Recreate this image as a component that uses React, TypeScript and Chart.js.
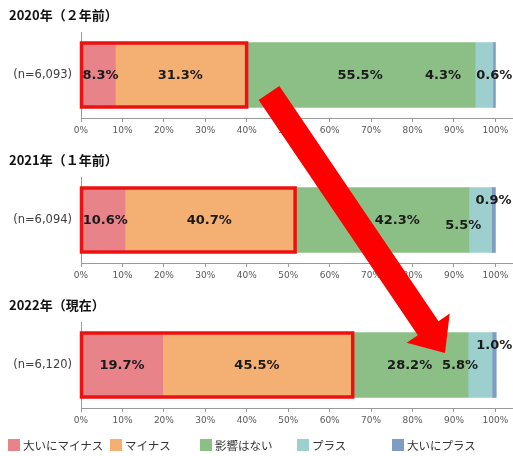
import React, { useEffect, useRef } from "react";
import { Chart, registerables } from "chart.js";

Chart.register(...registerables);

// ---- data ----
const panelTitles = ["2020年（２年前）", "2021年（１年前）", "2022年（現在）"];
const sampleLabels = ["(n=6,093)", "(n=6,094)", "(n=6,120)"];
const seriesNames = ["大いにマイナス", "マイナス", "影響はない", "プラス", "大いにプラス"];
const veryNegative = [8.3, 10.6, 19.7];
const negative = [31.3, 40.7, 45.5];
const noImpact = [55.5, 42.3, 28.2];
const positive = [4.3, 5.5, 5.8];
const veryPositive = [0.6, 0.9, 1.0];
const seriesValues = [veryNegative, negative, noImpact, positive, veryPositive];
const tickLabelSuffix = "%";

// ---- styles ----
const seriesColors = ["#E8838A", "#F4AF72", "#8CBF86", "#9DCFCE", "#7F9CC2"];
const labelOffsets: number[][][] = [
  [[2, 1], [0, 1], [0, 1], [-41, 1], [0, 1]],
  [[2, 1], [0, 1], [16, 1], [-17, 6], [0, -19]],
  [[0, 1], [0, 1], [0, 1], [-20, 1], [0, -19]],
];
const legendLefts = [8, 110, 200, 297, 392];
const PANEL_H = 145;
const W = 513;

function Panel({ index }: { index: number }) {
  const ref = useRef<HTMLCanvasElement | null>(null);
  useEffect(() => {
    if (!ref.current) return;
    const overlayPlugin = {
      id: "overlay",
      afterDatasetsDraw(chart: any) {
        const ctx = chart.ctx;
        ctx.save();
        ctx.font = "bold 13px 'DejaVu Sans'";
        ctx.fillStyle = "#1a1a1a";
        ctx.textAlign = "center";
        ctx.textBaseline = "middle";
        chart.data.datasets.forEach((ds: any, k: number) => {
          const el: any = chart.getDatasetMeta(k).data[0];
          if (!el) return;
          const cx = (el.x + el.base) / 2 + labelOffsets[index][k][0];
          const cy = el.y + labelOffsets[index][k][1];
          ctx.fillText(ds.data[0].toFixed(1) + "%", cx, cy);
        });
        // highlight of the negative share
        const xs = chart.scales.x;
        const el0: any = chart.getDatasetMeta(0).data[0];
        const x0 = xs.getPixelForValue(0);
        const x1 = xs.getPixelForValue(veryNegative[index] + negative[index]);
        const top = el0.y - el0.height / 2;
        const h = el0.height;
        ctx.strokeStyle = "#EE1111";
        ctx.lineWidth = 3.5;
        ctx.strokeRect(x0 + 0.5, top + 0.5, x1 - x0 + 1, h - 1);
        ctx.restore();
      },
    };
    const chart = new Chart(ref.current, {
      type: "bar",
      data: {
        labels: [sampleLabels[index]],
        datasets: seriesNames.map((name, k) => ({
          label: name,
          data: [seriesValues[k][index]],
          backgroundColor: seriesColors[k],
          borderWidth: 0,
          barThickness: 65,
        })),
      },
      options: {
        indexAxis: "y",
        responsive: false,
        animation: false,
        layout: { padding: { left: 9, right: 1, top: 0, bottom: 0 } },
        plugins: {
          legend: { display: false },
          tooltip: { enabled: false },
          title: {
            display: true,
            text: panelTitles[index],
            align: "start",
            color: "#111",
            font: { family: "'Noto Sans CJK JP'", size: 13, weight: "bold" },
            padding: { top: 7, bottom: 9.4 },
          },
        },
        scales: {
          x: {
            stacked: true,
            min: 0,
            max: 104,
            afterFit: (s: any) => {
              s.height = 27;
            },
            ticks: {
              stepSize: 10,
              includeBounds: false,
              autoSkip: false,
              maxRotation: 0,
              padding: 3,
              color: "#595959",
              font: { family: "'DejaVu Sans'", size: 9 },
              callback: (v: any) => v + tickLabelSuffix,
            },
            grid: { display: true, drawOnChartArea: false, drawTicks: true, tickLength: 4, color: "#9a9a9a" },
            border: { display: true, color: "#9a9a9a", width: 1 },
          },
          y: {
            stacked: true,
            afterFit: (s: any) => {
              s.width = 72;
            },
            ticks: { padding: 9, color: "#404040", font: { family: "'DejaVu Sans'", size: 11.5 } },
            grid: { display: true, drawOnChartArea: false, drawTicks: false },
            border: { display: true, color: "#9a9a9a", width: 1 },
          },
        },
      } as any,
      plugins: [overlayPlugin],
    });
    return () => chart.destroy();
  }, [index]);
  return (
    <div style={{ position: "absolute", left: 0, top: index * PANEL_H, width: W, height: PANEL_H }}>
      <canvas ref={ref} width={W} height={PANEL_H} style={{ width: W, height: PANEL_H, display: "block" }} />
    </div>
  );
}

function Arrow() {
  const S = [269, 93];
  const T = [445, 353];
  const dx = T[0] - S[0];
  const dy = T[1] - S[1];
  const len = Math.hypot(dx, dy);
  const u = [dx / len, dy / len];
  const n = [-u[1], u[0]];
  const hw = 12.5;
  const hh = 26;
  const hl = 30;
  const B = [T[0] - u[0] * hl, T[1] - u[1] * hl];
  const p = (a: number[], s: number) => `${a[0] + n[0] * s},${a[1] + n[1] * s}`;
  const pts = [p(S, hw), p(B, hw), p(B, hh), `${T[0]},${T[1]}`, p(B, -hh), p(B, -hw), p(S, -hw)].join(" ");
  return (
    <svg width={W} height={456} style={{ position: "absolute", left: 0, top: 0, pointerEvents: "none" }}>
      <polygon points={pts} fill="#FF0000" />
    </svg>
  );
}

function Legend() {
  return (
    <div style={{ position: "absolute", left: 0, top: 437, width: W, height: 16 }}>
      {seriesNames.map((name, k) => (
        <div
          key={name}
          style={{
            position: "absolute",
            left: legendLefts[k],
            top: 0,
            display: "flex",
            alignItems: "center",
            height: 16,
            whiteSpace: "nowrap",
            fontFamily: "'Noto Sans CJK JP'",
            fontSize: 11.5,
            color: "#333",
          }}
        >
          <span style={{ display: "inline-block", width: 12, height: 12, background: seriesColors[k], marginRight: 3 }} />
          <span>{name}</span>
        </div>
      ))}
    </div>
  );
}

export default function App() {
  return (
    <div style={{ position: "absolute", left: 0, top: 0, width: W, height: 456, background: "#fff", overflow: "hidden" }}>
      {panelTitles.map((_, i) => (
        <Panel key={i} index={i} />
      ))}
      <Arrow />
      <Legend />
    </div>
  );
}
